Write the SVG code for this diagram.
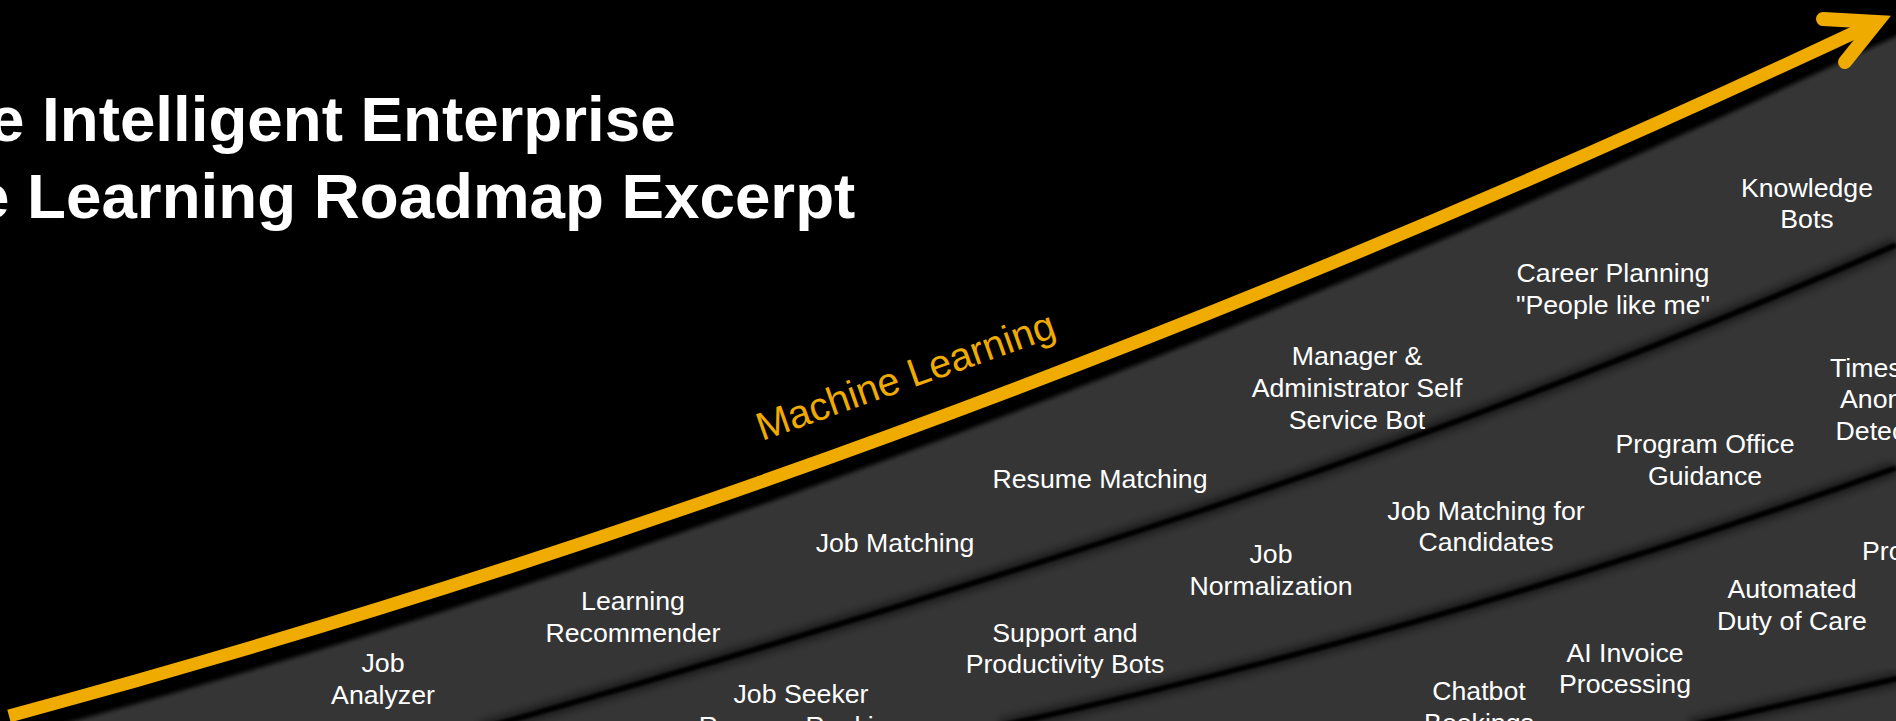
<svg xmlns="http://www.w3.org/2000/svg" width="1896" height="721" viewBox="0 0 1896 721">
<defs>
<style>
.t{font-family:"Liberation Sans",Arial,sans-serif;font-size:26.7px;fill:#fff;text-anchor:middle}
.tl{text-anchor:start}
.title{font-family:"Liberation Sans",Arial,sans-serif;font-size:63.7px;font-weight:bold;fill:#fff}
.ml{font-family:"Liberation Sans",Arial,sans-serif;font-size:39.5px;fill:#F0AB00}
.sep{fill:none;stroke:#000;stroke-width:5.5;filter:url(#b1)}
.sepw{fill:none;stroke:#000;stroke-width:14;stroke-opacity:.5;filter:url(#b3)}
.shaft{fill:none;stroke:#F0AB00;stroke-width:13}
.head{fill:none;stroke:#F0AB00;stroke-width:14;stroke-linecap:round;stroke-linejoin:miter}
</style>
<filter id="b1" x="-5%" y="-20%" width="110%" height="140%"><feGaussianBlur stdDeviation="1.1"/></filter>
<filter id="b2" x="-5%" y="-5%" width="110%" height="110%"><feGaussianBlur stdDeviation="2"/></filter>
<filter id="b3" x="-5%" y="-20%" width="110%" height="140%"><feGaussianBlur stdDeviation="4"/></filter>
</defs>
<rect width="1896" height="721" fill="#000"/>
<g id="surface">
<path d="M-20,752 L9,739 Q929,491 1877,45 L1910,30 L1910,760 L-20,760 Z" fill="#343434" filter="url(#b2)"/>
</g>
<g id="connectors">
<path class="sepw" d="M480,729 Q840,628 1200,511 Q1548,396 1896,245"/>
<path class="sep" d="M480,729 Q840,628 1200,511 Q1548,396 1896,245"/>
<path class="sepw" d="M1000,726 Q1448,627.4 1896,468"/>
<path class="sep" d="M1000,726 Q1448,627.4 1896,468"/>
<path class="sepw" d="M1690,726 L1900,678"/>
<path class="sep" d="M1690,726 L1900,678"/>
<path class="shaft" d="M9,716 Q929,468 1877,22"/>
<path class="head" d="M1823,19 L1877,22 L1845,62"/>
</g>
<g id="title">
<text class="title" x="-11" y="141">e Intelligent Enterprise</text>
<text class="title" x="-26" y="218">e Learning Roadmap Excerpt</text>
</g>
<g id="axis-label">
<text class="ml" x="762" y="441" transform="rotate(-19.5 762 441)">Machine Learning</text>
</g>
<g id="node-job-analyzer"><text class="t" x="383" y="672">Job</text><text class="t" x="383" y="704">Analyzer</text></g>
<g id="node-learning-recommender"><text class="t" x="633" y="610">Learning</text><text class="t" x="633" y="642">Recommender</text></g>
<g id="node-job-matching"><text class="t" x="895" y="552">Job Matching</text></g>
<g id="node-resume-matching"><text class="t" x="1100" y="488">Resume Matching</text></g>
<g id="node-manager-bot"><text class="t" x="1357" y="365">Manager &amp;</text><text class="t" x="1357" y="397">Administrator Self</text><text class="t" x="1357" y="429">Service Bot</text></g>
<g id="node-career-planning"><text class="t" x="1613" y="282">Career Planning</text><text class="t" x="1613" y="314">"People like me"</text></g>
<g id="node-knowledge-bots"><text class="t" x="1807" y="197">Knowledge</text><text class="t" x="1807" y="228">Bots</text></g>
<g id="node-job-seeker"><text class="t" x="801" y="703">Job Seeker</text><text class="t" x="801" y="735">Resume Ranking</text></g>
<g id="node-support-bots"><text class="t" x="1065" y="642">Support and</text><text class="t" x="1065" y="673">Productivity Bots</text></g>
<g id="node-job-normalization"><text class="t" x="1271" y="563">Job</text><text class="t" x="1271" y="595">Normalization</text></g>
<g id="node-job-matching-candidates"><text class="t" x="1486" y="520">Job Matching for</text><text class="t" x="1486" y="551">Candidates</text></g>
<g id="node-program-office"><text class="t" x="1705" y="453">Program Office</text><text class="t" x="1705" y="485">Guidance</text></g>
<g id="node-timesheet"><text class="t tl" x="1830" y="377">Times</text><text class="t tl" x="1840" y="408">Anom</text><text class="t tl" x="1835.6" y="440">Detec</text></g>
<g id="node-pro"><text class="t tl" x="1862" y="560">Pro</text></g>
<g id="node-chatbot"><text class="t" x="1479" y="700">Chatbot</text><text class="t" x="1479" y="732">Bookings</text></g>
<g id="node-ai-invoice"><text class="t" x="1625" y="662">AI Invoice</text><text class="t" x="1625" y="693">Processing</text></g>
<g id="node-duty-of-care"><text class="t" x="1792" y="598">Automated</text><text class="t" x="1792" y="630">Duty of Care</text></g>
</svg>
